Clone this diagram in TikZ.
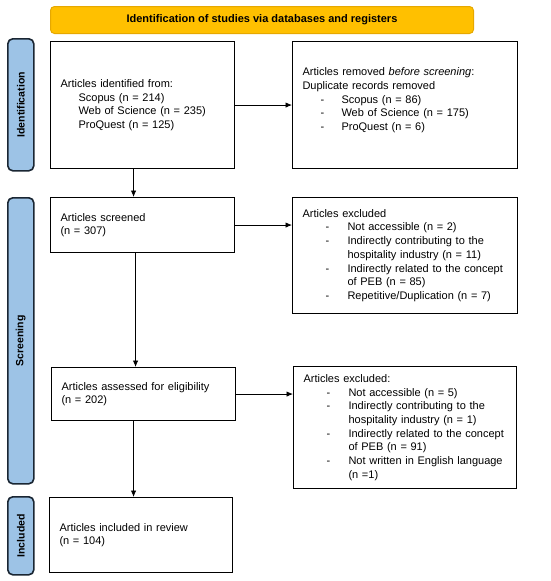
\documentclass[tikz,border=0pt]{standalone}
\usepackage{fontspec}
\setmainfont{Liberation Sans}
\usetikzlibrary{arrows.meta}
\definecolor{bannerfill}{HTML}{FFC000}
\definecolor{bannerdraw}{HTML}{E6A800}
\definecolor{sidefill}{HTML}{9DC3E6}
\definecolor{sidedraw}{HTML}{1A2633}
\tikzset{
  box/.style={draw=black, line width=1.1pt, align=left, inner xsep=10pt, inner ysep=0pt,
    font=\fontsize{11}{13.7}\selectfont, anchor=north west},
  side/.style={draw=sidedraw, fill=sidefill, line width=1.6pt, rounded corners=5pt,
    minimum width=26pt, anchor=north west, inner sep=0pt},
  sidetext/.style={rotate=90, font=\bfseries\fontsize{10.5}{12}\selectfont},
  arr/.style={line width=0.8pt, -{Latex[length=6.5pt,width=5.5pt]}},
}
\newcommand{\dashitem}[3]{\hspace*{#1pt}\makebox[#2pt][l]{-}#3}
\newcommand{\contline}[2]{\hspace*{#1pt}#2}
\begin{document}
\begin{tikzpicture}[x=1pt,y=-1pt]
\useasboundingbox (0,0) rectangle (550,581);
% banner
\node[draw=bannerdraw, fill=bannerfill, line width=1pt, rounded corners=4pt,
  minimum width=423pt, minimum height=27pt, anchor=north west, inner sep=0pt,
  font=\bfseries\fontsize{11}{13}\selectfont] (banner) at (50,6)
  {Identification of studies via databases and registers};
% side labels
\node[side, minimum height=132pt] (sid) at (7,38) {};
\node[sidetext] (sidt) at (sid.center) {Identification};
\node[side, minimum height=286pt] (ssc) at (7,197) {};
\node[sidetext] (ssct) at (ssc.center) {Screening};
\node[side, minimum height=78pt] (sin) at (7,496) {};
\node[sidetext] (sint) at (sin.center) {Included};
% boxes
\node[box, text width=164pt, minimum height=127pt] (b1) at (50,41)
 {Articles identified from:\\
  \contline{18}{Scopus (n = 214)}\\
  \contline{18}{Web of Science (n = 235)}\\
  \contline{18}{ProQuest (n = 125)}};
\node[box, text width=205pt, minimum height=127pt] (b2) at (292,41)
 {Articles removed \emph{before screening}:\\
  Duplicate records removed\\
  \dashitem{18}{21}{Scopus (n = 86)}\\
  \dashitem{18}{21}{Web of Science (n = 175)}\\
  \dashitem{18}{21}{ProQuest (n = 6)}\\[-2pt]\mbox{}};
\node[box, text width=164pt, minimum height=55pt] (b3) at (50,197)
 {Articles screened\\(n = 307)};
\node[box, text width=205pt, minimum height=116pt] (b4) at (292,197)
 {Articles excluded\\
  \dashitem{23}{22}{Not accessible (n = 2)}\\
  \dashitem{23}{22}{Indirectly contributing to the}\\
  \contline{45}{hospitality industry (n = 11)}\\
  \dashitem{23}{22}{Indirectly related to the concept}\\
  \contline{45}{of PEB (n = 85)}\\
  \dashitem{23}{22}{Repetitive/Duplication (n = 7)}};
\node[box, text width=164pt, minimum height=53pt] (b5) at (51,367)
 {Articles assessed for eligibility\\(n = 202)};
\node[box, text width=203pt, minimum height=122pt] (b6) at (293,366)
 {Articles excluded:\\
  \dashitem{23}{22}{Not accessible (n = 5)}\\
  \dashitem{23}{22}{Indirectly contributing to the}\\
  \contline{45}{hospitality industry (n = 1)}\\
  \dashitem{23}{22}{Indirectly related to the concept}\\
  \contline{45}{of PEB (n = 91)}\\
  \dashitem{23}{22}{Not written in English language}\\
  \contline{45}{(n =1)}};
\node[box, text width=163pt, minimum height=75pt] (b7) at (49,497)
 {Articles included in review\\(n = 104)};
% arrows
\draw[arr] (b1.east) -- (b1.east -| b2.west);
\draw[arr] (b3.east) -- (b3.east -| b4.west);
\draw[arr] (b5.east) -- (b5.east -| b6.west);
\draw[arr] ([xshift=-9pt]b1.south) -- ([xshift=-9pt]b1.south |- b3.north);
\draw[arr] ([xshift=-7pt]b3.south) -- ([xshift=-7pt]b3.south |- b5.north);
\draw[arr] ([xshift=-10pt]b5.south) -- ([xshift=-10pt]b5.south |- b7.north);
\end{tikzpicture}
\end{document}
